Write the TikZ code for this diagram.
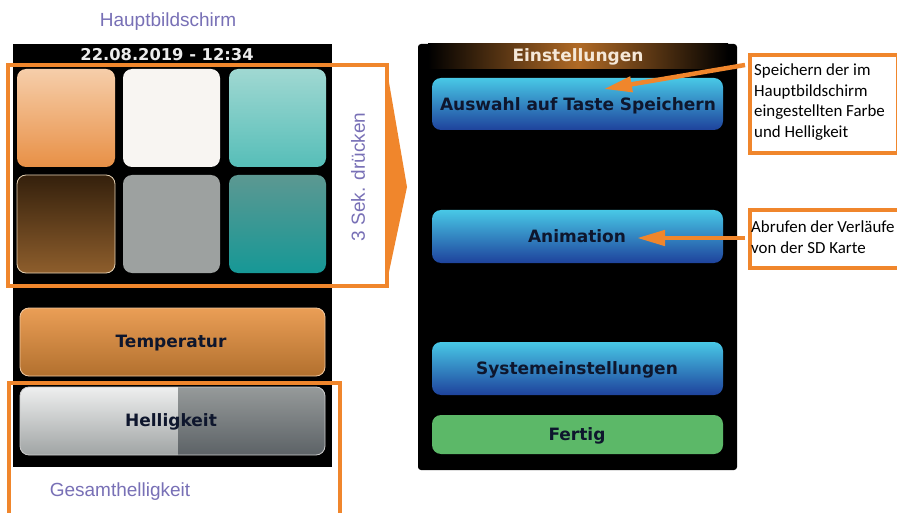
\documentclass[tikz,border=0pt]{standalone}
\usepackage{fontspec}
\setmainfont{Liberation Sans}
\newfontfamily\screenfont{DejaVu Sans}
\newfontfamily\calloutfont{Carlito}
\usetikzlibrary{arrows.meta}
\definecolor{org}{RGB}{240,134,44}
\definecolor{purp}{RGB}{120,112,182}
\definecolor{navy}{RGB}{14,22,45}
\definecolor{tileA1}{RGB}{246,206,170}
\definecolor{tileA2}{RGB}{232,144,70}
\definecolor{tileB}{RGB}{248,245,242}
\definecolor{tileC1}{RGB}{160,216,210}
\definecolor{tileC2}{RGB}{86,190,184}
\definecolor{tileD1}{RGB}{52,32,12}
\definecolor{tileD2}{RGB}{142,94,44}
\definecolor{tileDb}{RGB}{230,210,180}
\definecolor{tileE}{RGB}{157,161,160}
\definecolor{tileF1}{RGB}{92,152,146}
\definecolor{tileF2}{RGB}{22,152,150}
\definecolor{temp1}{RGB}{234,158,86}
\definecolor{temp2}{RGB}{178,112,46}
\definecolor{tempb}{RGB}{240,200,160}
\definecolor{hellL1}{RGB}{238,239,239}
\definecolor{hellL2}{RGB}{160,164,164}
\definecolor{hellR1}{RGB}{150,154,154}
\definecolor{hellR2}{RGB}{92,98,102}
\definecolor{hellb}{RGB}{205,205,205}
\definecolor{glow}{RGB}{176,106,38}
\definecolor{cream}{RGB}{245,232,216}
\definecolor{datew}{RGB}{235,235,235}
\definecolor{blue1}{RGB}{72,200,230}
\definecolor{blue2}{RGB}{28,128,210}
\definecolor{blue3}{RGB}{30,66,156}
\definecolor{green1}{RGB}{92,184,104}
\begin{document}
\begin{tikzpicture}[x=1pt,y=-1pt,
  tile/.style={rounded corners=9pt},
  lbl/.style={font=\fontsize{19}{22}\selectfont, text=purp, inner sep=0pt},
  scrtext/.style={font=\screenfont\bfseries\fontsize{17}{20}\selectfont, text=navy, inner sep=0pt, text height=12.4pt, text depth=0pt},
  bluebtn/.style={rounded corners=9pt, top color=blue1, middle color=blue2, bottom color=blue3},
  callout/.style={draw=org, line width=3.8pt, anchor=north west, inner sep=0pt},
  calltext/.style={anchor=west, inner sep=0pt, align=left, font=\calloutfont\fontsize{16.9}{20.7}\selectfont},
  frame/.style={org, line width=3.6pt},
  arr/.style={draw=org, line width=4.5pt, -{Triangle[length=28pt,width=15pt]}},
]
\useasboundingbox (0,0) rectangle (897,513);
\fill[white] (0,0) rectangle (897,513);

% ---------- left screen ----------
\node[lbl] (title) at (168,22) {Hauptbildschirm};
\fill[black] (13,44) rectangle (332,467);
\node[font=\screenfont\bfseries\fontsize{16.3}{19}\selectfont, text=datew, inner sep=0pt, text height=12pt, text depth=0pt] (date) at (167,55) {22.08.2019 - 12:34};

% tiles
\shade[tile, top color=tileA1, bottom color=tileA2] (17,69) rectangle (115,167);
\fill[tile, fill=tileB] (123,69) rectangle (220,167);
\shade[tile, top color=tileC1, bottom color=tileC2] (229,69) rectangle (326,167);
\shadedraw[tile, top color=tileD1, bottom color=tileD2, draw=tileDb, line width=0.8pt] (17,175) rectangle (115,273);
\fill[tile, fill=tileE] (123,175) rectangle (220,273);
\shade[tile, top color=tileF1, bottom color=tileF2] (229,175) rectangle (326,273);

% orange frame with arrow
\draw[frame] (8,65) rectangle (387,286);
\fill[org] (386,65) -- (407,187) -- (386,286) -- cycle;
\node[lbl, rotate=90] (press) at (358,177) {3 Sek. drücken};

% Temperatur
\shadedraw[rounded corners=9pt, top color=temp1, bottom color=temp2, draw=tempb, line width=0.8pt] (20,308) rectangle (325,376);
\node[scrtext] (temp) at (171,341) {Temperatur};

% Helligkeit
\begin{scope}
\clip[rounded corners=9pt] (20,387) rectangle (325,455);
\shade[top color=hellL1, bottom color=hellL2] (20,387) rectangle (178,455);
\shade[top color=hellR1, bottom color=hellR2] (178,387) rectangle (325,455);
\end{scope}
\draw[rounded corners=9pt, draw=hellb, line width=0.8pt] (20,387) rectangle (325,455);
\node[scrtext] (hell) at (171,420) {Helligkeit};

\draw[frame] (9,513) -- (9,383) -- (340,383) -- (340,513);
\node[lbl] (gesamt) at (120,492) {Gesamthelligkeit};

% ---------- right screen ----------
\fill[black, rounded corners=3pt] (418,44) -- (737,44) -- (737,470) -- (418,470) -- cycle;
\shade[left color=black, right color=black, middle color=glow] (428,44) rectangle (728,69);
\node[scrtext, text=cream] (einst) at (578,55) {Einstellungen};

\shade[bluebtn] (432,78) rectangle (723,130);
\node[scrtext] (auswahl) at (578,104) {Auswahl auf Taste Speichern};
\shade[bluebtn] (432,210) rectangle (723,263);
\node[scrtext] (anim) at (577,236) {Animation};
\shade[bluebtn] (432,342) rectangle (723,395);
\node[scrtext] (sys) at (577,368) {Systemeinstellungen};
\fill[rounded corners=9pt, fill=green1] (432,415) rectangle (723,454);
\node[scrtext] (fertig) at (577,434) {Fertig};

% ---------- callouts ----------
\node[callout, minimum width=148pt, minimum height=98pt] (c1) at (748,53) {};
\node[calltext] (t1) at (754,102) {Speichern der im\\Hauptbildschirm\\eingestellten Farbe\\und Helligkeit};
\node[callout, minimum width=150pt, minimum height=58pt] (c2) at (748,208) {};
\node[calltext] (t2) at (751,237) {Abrufen der Verläufe\\von der SD Karte};

\coordinate (a1s) at (745,65);
\coordinate (a1t) at (604,89);
\coordinate (a2s) at (745,238);
\coordinate (a2t) at (637,238);
\draw[arr] (a1s) -- (a1t);
\draw[arr] (a2s) -- (a2t);
\end{tikzpicture}
\end{document}
